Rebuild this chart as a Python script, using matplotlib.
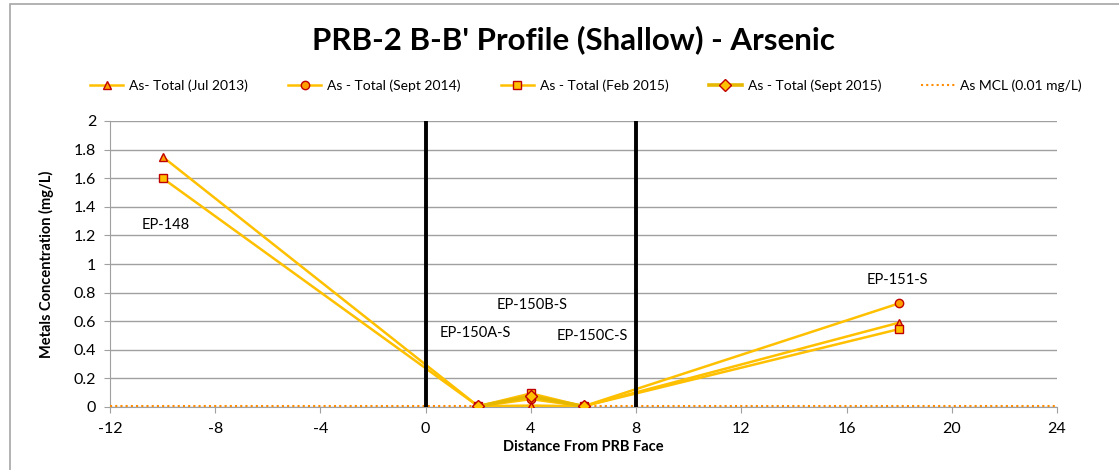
import matplotlib.pyplot as plt
from matplotlib.patches import Rectangle

plt.rcParams['font.family'] = ['Lato', 'DejaVu Sans']
plt.rcParams['axes.unicode_minus'] = False

# sample distances from PRB face
x_jul13 = [-10, 2, 4, 6, 18]
y_jul13 = [1.75, 0.005, 0.01, 0.005, 0.59]
x_sep14 = [2, 4, 6, 18]
y_sep14 = [0.005, 0.055, 0.005, 0.725]
x_feb15 = [-10, 2, 4, 6, 18]
y_feb15 = [1.6, 0.005, 0.095, 0.005, 0.545]
x_sep15 = [2, 4, 6]
y_sep15 = [0.005, 0.075, 0.005]
mcl = 0.01

well_names = ["EP-148", "EP-150A-S", "EP-150B-S", "EP-150C-S", "EP-151-S"]
well_x = [-9.9, 1.9, 4.05, 6.35, 17.95]
well_y = [1.27, 0.52, 0.71, 0.50, 0.89]

prb_edges = [0, 8]

gold = "#FFC000"
red = "#C00000"

fig = plt.figure(figsize=(11.19, 4.70), dpi=100)
fig.patches.append(Rectangle((10 / 1119, -0.1), 1.2, 1 - 4 / 470 + 0.1, transform=fig.transFigure,
                             fill=False, edgecolor="#A6A6A6", linewidth=1.2))
ax = fig.add_axes([110 / 1119, 1 - 407 / 470, (1057 - 110) / 1119, (407 - 121) / 470])

ax.plot(x_jul13, y_jul13, color=gold, lw=1.8, marker="^", ms=6, mfc="#FFA000", mec=red, mew=1,
        label="As- Total (Jul 2013)", zorder=4)
ax.plot(x_sep14, y_sep14, color=gold, lw=1.8, marker="o", ms=6, mfc="#FFA000", mec=red, mew=1,
        label="As - Total (Sept 2014)", zorder=4)
ax.plot(x_feb15, y_feb15, color=gold, lw=1.8, marker="s", ms=6, mfc=gold, mec=red, mew=1,
        label="As - Total (Feb 2015)", zorder=4)
ax.plot(x_sep15, y_sep15, color="#E6B800", lw=2.6, marker="D", ms=6, mfc=gold, mec=red, mew=1,
        label="As - Total (Sept 2015)", zorder=4)
ax.axhline(mcl, color="#FF8C00", lw=1.5, ls=(0, (1, 1.5)), label="As MCL (0.01 mg/L)", zorder=3)

for xe in prb_edges:
    ax.plot([xe, xe], [0, 2], color="black", lw=2.8, zorder=5)

for name, xw, yw in zip(well_names, well_x, well_y):
    ax.text(xw, yw, name, ha="center", va="center", fontsize=10.5)

ax.set_xlim(-12, 24)
ax.set_ylim(0, 2)
ax.set_xticks(range(-12, 25, 4))
ax.set_yticks([i * 0.2 for i in range(11)])
ax.set_yticklabels(["0", "0.2", "0.4", "0.6", "0.8", "1", "1.2", "1.4", "1.6", "1.8", "2"])
ax.grid(axis="y", color="#A0A0A0", lw=1)
ax.set_axisbelow(True)
for s in ["top", "right"]:
    ax.spines[s].set_visible(False)
for s in ["left", "bottom"]:
    ax.spines[s].set_color("#A0A0A0")
ax.tick_params(axis="both", colors="#A0A0A0", labelcolor="black", labelsize=11.5, length=4)
ax.tick_params(axis="x", pad=7)
ax.tick_params(axis="y", pad=6)

ax.set_xlabel("Distance From PRB Face", fontsize=10.5, fontweight="bold", labelpad=3)
ax.set_ylabel("Metals Concentration (mg/L)", fontsize=10.5, fontweight="bold", labelpad=14)
fig.text(573 / 1119, 1 - 40 / 470, "PRB-2 B-B' Profile (Shallow) - Arsenic", ha="center", va="center",
         fontsize=22.5, fontweight="bold")

ax.legend(loc="center", bbox_to_anchor=((586 - 110) / 947, 1 + (121 - 86) / (407 - 121)), ncol=5,
          frameon=False, fontsize=10, handlelength=2.4, columnspacing=2.9, handletextpad=0.4)

fig.savefig("out.png", dpi=100)
